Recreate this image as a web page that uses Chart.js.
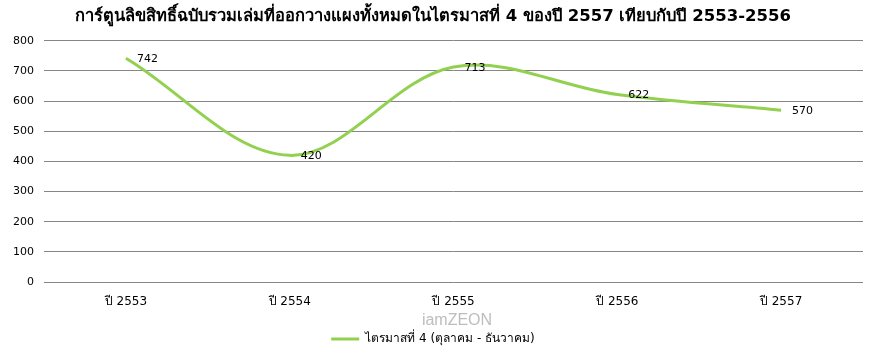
<!DOCTYPE html>
<html>
<head>
<meta charset="utf-8">
<script src="https://cdn.jsdelivr.net/npm/chart.js@4"></script>
<style>
  html, body { margin: 0; padding: 0; background: #fff; }
  #wrap { width: 873px; height: 355px; }
</style>
</head>
<body>
<div id="wrap"><canvas id="chart"></canvas></div>
<script>
const categories = ['ปี 2553', 'ปี 2554', 'ปี 2555', 'ปี 2556', 'ปี 2557'];
const values = [742, 420, 713, 622, 570];
const seriesName = 'ไตรมาสที่ 4 (ตุลาคม - ธันวาคม)';
const chartTitle = 'การ์ตูนลิขสิทธิ์ฉบับรวมเล่มที่ออกวางแผงทั้งหมดในไตรมาสที่ 4 ของปี 2557 เทียบกับปี 2553-2556';

const FONT = 'Tahoma, "DejaVu Sans", "Noto Sans", sans-serif';

// ป้ายค่าข้างจุด + ลายน้ำ
const labelsPlugin = {
    id: 'pointLabels',
    afterDatasetsDraw(chart) {
        const ctx = chart.ctx;
        const meta = chart.getDatasetMeta(0);
        ctx.save();
        ctx.font = '11px ' + FONT;
        ctx.fillStyle = '#000';
        ctx.textAlign = 'left';
        ctx.textBaseline = 'middle';
        meta.data.forEach((pt, i) => {
            ctx.fillText(values[i], pt.x + 11, pt.y + 1);
        });
        // watermark
        ctx.font = '16px Arial, "Liberation Sans", sans-serif';
        ctx.fillStyle = '#bdbdbd';
        ctx.textAlign = 'center';
        ctx.fillText('iamZEON', 457, 321);
        ctx.restore();
    }
};

new Chart(document.getElementById('chart'), {
    type: 'line',
    data: {
        labels: categories,
        datasets: [{
            label: seriesName,
            data: values,
            borderColor: '#92d050',
            backgroundColor: '#92d050',
            borderWidth: 3,
            tension: 0.35,
            pointRadius: 0,
            fill: false
        }]
    },
    options: {
        responsive: true,
        maintainAspectRatio: false,
        animation: false,
        layout: { padding: { left: 3, right: 10, top: 6, bottom: 0 } },
        plugins: {
            title: {
                display: true,
                text: chartTitle,
                color: '#000',
                font: { family: FONT, size: 16.5, weight: 'bold' },
                padding: { top: 1, bottom: 14 }
            },
            legend: {
                position: 'bottom',
                labels: {
                    color: '#000',
                    font: { family: FONT, size: 12 },
                    usePointStyle: true,
                    pointStyle: 'line',
                    pointStyleWidth: 28,
                    padding: 9
                }
            },
            tooltip: { enabled: false }
        },
        scales: {
            x: {
                offset: true,
                grid: { display: false },
                border: { display: false },
                ticks: { color: '#000', font: { family: FONT, size: 12 }, padding: 5 },
                afterFit(scale) { scale.height = 42; }
            },
            y: {
                min: 0,
                max: 800,
                ticks: { stepSize: 100, color: '#000', font: { family: FONT, size: 11 }, padding: 10 },
                grid: { color: '#868686', drawTicks: false },
                border: { display: false }
            }
        }
    },
    plugins: [labelsPlugin]
});
</script>
</body>
</html>
